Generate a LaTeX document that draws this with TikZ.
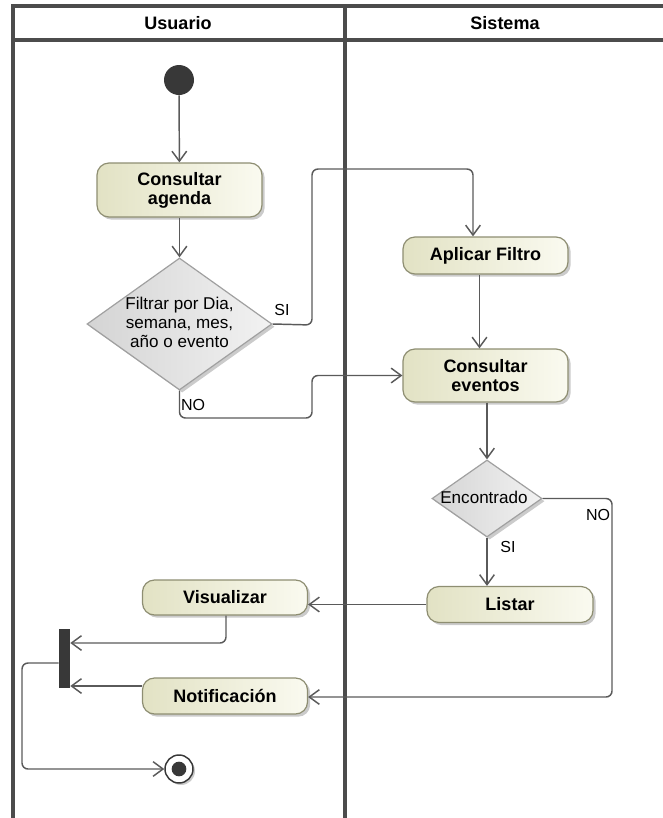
\documentclass[tikz,border=0pt]{standalone}
\usepackage{fontspec}
\setmainfont{Liberation Sans}
\usetikzlibrary{arrows.meta,shapes.geometric,shadows}
\definecolor{laneC}{HTML}{4C4C4C}
\definecolor{lineC}{HTML}{5A5A5A}
\definecolor{actL}{HTML}{E2E2C4}
\definecolor{actR}{HTML}{FAFAF0}
\definecolor{actB}{HTML}{8E8E72}
\definecolor{decL}{HTML}{D4D4D4}
\definecolor{decR}{HTML}{F2F2F2}
\definecolor{decB}{HTML}{A0A0A0}
\definecolor{darkC}{HTML}{383838}
\tikzset{
  actbox/.style={draw=actB, line width=0.9pt, rounded corners=9pt,
    left color=actL, right color=actR, minimum width=123.75pt, inner sep=0pt,
    drop shadow={shadow xshift=2pt, shadow yshift=-2pt, fill=black!45, opacity=0.45},
    font=\fontsize{13.5}{14.25}\selectfont\bfseries, align=center},
  decbox/.style={diamond, draw=decB, line width=0.9pt, inner sep=0pt,
    left color=decL, right color=decR,
    drop shadow={shadow xshift=2pt, shadow yshift=-2pt, fill=black!45, opacity=0.45}},
  dectext/.style={font=\fontsize{12.8}{14.25}\selectfont, align=center, inner sep=0pt},
  flow/.style={draw=lineC, line width=1.1pt, rounded corners=4.5pt,
    -{Straight Barb[length=7.5pt,width=11pt,line width=1.1pt]}},
  guard/.style={font=\fontsize{12}{14}\selectfont, inner sep=0pt},
  lane/.style={draw=laneC, line width=2.6pt},
  head/.style={font=\fontsize{13.5}{14.25}\selectfont\bfseries, inner sep=0pt}
}
\begin{document}
\begin{tikzpicture}[x=0.75pt,y=-0.75pt]
\useasboundingbox (0,0) rectangle (663,818);
% swimlanes
\draw[lane] (13,818) -- (13,6) -- (664,6);
\draw[lane] (13,40) -- (664,40);
\draw[lane] (345,6) -- (345,818);
\node[head] (hU) at (178,23) {Usuario};
\node[head] (hS) at (505,23) {Sistema};
% nodes
\node[circle, fill=darkC, minimum size=22.5pt, inner sep=0pt] (ini) at (179,80) {};
\node[actbox, minimum height=40.5pt] (age) at (179.5,190) {Consultar\\agenda};
\node[decbox, minimum width=138.75pt, minimum height=99pt] (fil) at (179.5,324) {};
\node[dectext] (filT) at (179.5,322) {Filtrar por Dia,\\semana, mes,\\año o evento};
\node[actbox, minimum height=27.75pt] (apl) at (485.5,255.5) {Aplicar Filtro};
\node[actbox, minimum height=39.75pt] (eve) at (485.5,375.5) {Consultar\\eventos};
\node[decbox, minimum width=82.5pt, minimum height=57.75pt] (enc) at (487,498.5) {};
\node[dectext] (encT) at (484,497) {Encontrado};
\node[actbox, minimum height=27pt, minimum width=124.5pt] (lis) at (510,604.5) {Listar};
\node[actbox, minimum height=26.25pt] (vis) at (225,597.5) {Visualizar};
\node[actbox, minimum height=27pt] (not) at (225,696) {Notificación};
\node[rectangle, fill=darkC, minimum width=8.25pt, minimum height=44.25pt, inner sep=0pt] (bar) at (64.5,658.5) {};
\node[circle, draw=darkC, fill=white, line width=1.1pt, minimum size=21pt, inner sep=0pt,
  drop shadow={shadow xshift=1.5pt, shadow yshift=-1.5pt, fill=black!45, opacity=0.45}] (fin) at (179,769) {};
\node[circle, fill=darkC, minimum size=11pt, inner sep=0pt] (finI) at (fin) {};
% bend coordinates
\coordinate (si1) at (312,325);
\coordinate (si2) at (312,169);
\coordinate (si3) at (473,169);
\coordinate (no1) at (179.5,418);
\coordinate (no2) at (312,418);
\coordinate (no3) at (312,375.5);
\coordinate (en1) at (612,498.5);
\coordinate (en2) at (612,697);
\coordinate (vi1) at (226,643);
\coordinate (ba1) at (22,663);
\coordinate (ba2) at (22,769);
% connectors
\draw[flow] (ini) -- (age);
\draw[flow] (age) -- (fil.north);
\draw[flow] (fil.east) -- (si1) -- (si2) -- (si3) -- (si3 |- apl.north);
\draw[flow] ([xshift=-4.5pt]apl.south) -- ([xshift=-4.5pt]eve.north);
\draw[flow] (fil.south) -- (no1) -- (no2) -- (no3) -- (eve.west);
\draw[flow] (eve.south -| enc.north) -- (enc.north);
\draw[flow] (enc.south) -- (enc.south |- lis.north);
\draw[flow] (enc.east) -- (en1) -- (en2) -- (en2 -| not.east);
\draw[flow] (lis.west) -- (lis.west -| vis.east);
\draw[flow] (vis.south -| vi1) -- (vi1) -- (vi1 -| bar.east);
\draw[flow] ([yshift=7.5pt]not.west) -- ([yshift=7.5pt]not.west -| bar.east);
\draw[flow] (bar.west |- ba1) -- (ba1) -- (ba2) -- (fin.west);
% guards
\node[guard] (gSI1) at (282,310) {SI};
\node[guard] (gNO1) at (193,405) {NO};
\node[guard] (gNO2) at (598,515) {NO};
\node[guard] (gSI2) at (508,547) {SI};
\end{tikzpicture}
\end{document}
